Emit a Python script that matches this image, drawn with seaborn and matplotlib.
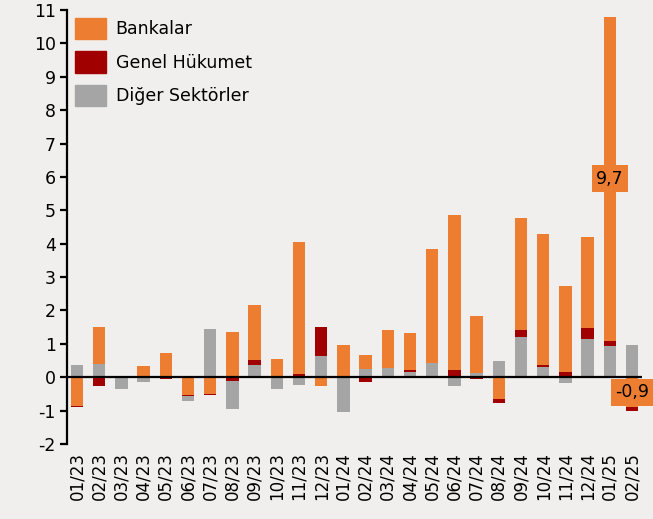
import seaborn as sns
import matplotlib.pyplot as plt
import matplotlib.patches as mpatches
import numpy as np
import pandas as pd

months = ['01/23', '02/23', '03/23', '04/23', '05/23', '06/23', '07/23', '08/23',
          '09/23', '10/23', '11/23', '12/23', '01/24', '02/24', '03/24', '04/24',
          '05/24', '06/24', '07/24', '08/24', '09/24', '10/24', '11/24', '12/24',
          '01/25', '02/25']
bankalar = [-0.85, 1.12, 0.04, 0.35, 0.74, -0.52, -0.50, 1.34, 1.62, 0.51, 3.95, -0.25,
            0.96, 0.42, 1.12, 1.08, 3.43, 4.64, 1.72, -0.64, 3.36, 3.90, 2.58, 2.73,
            9.70, -0.90]
genel_hukumet = [-0.05, -0.25, 0.0, 0.0, -0.06, -0.03, -0.03, -0.12, 0.15, 0.04, 0.10, 0.84,
                 0.0, -0.15, 0.0, 0.06, 0.0, 0.23, -0.06, -0.14, 0.18, 0.06, 0.15, 0.30,
                 0.15, -0.12]
diger = [0.38, 0.39, -0.35, -0.15, 0.0, -0.17, 1.43, -0.82, 0.38, -0.35, -0.22, 0.65,
         -1.05, 0.25, 0.28, 0.17, 0.42, -0.27, 0.12, 0.50, 1.22, 0.32, -0.16, 1.16,
         0.95, 0.97]
labels_idx = [24, 25]
labels_txt = ['9,7', '-0,9']

c_bank = '#ED7D31'
c_gov = '#A00000'
c_oth = '#A5A5A5'
bg = '#F1EFEE'

b = np.array(bankalar)
g = np.array(genel_hukumet)
o = np.array(diger)
pos = lambda a: np.clip(a, 0, None)
neg = lambda a: np.clip(a, None, 0)

# positive stack: gray, red, orange (bottom -> top); negative stack: orange, red, gray
layers = [
    (pos(o) + pos(g) + pos(b), c_bank),
    (pos(o) + pos(g), c_gov),
    (pos(o), c_oth),
    (neg(b) + neg(g) + neg(o), c_oth),
    (neg(b) + neg(g), c_gov),
    (neg(b), c_bank),
]

plt.rcParams['font.family'] = ['DejaVu Sans']
plt.rcParams['axes.unicode_minus'] = False
fig = plt.figure(figsize=(6.53, 5.19), dpi=100, facecolor=bg)
ax = fig.add_axes([67 / 653, 1 - 444 / 519, (642 - 67) / 653, (444 - 10) / 519])
ax.set_facecolor(bg)

for vals, col in layers:
    df = pd.DataFrame({'month': months, 'v': vals})
    sns.barplot(data=df, x='month', y='v', color=col, width=0.56, saturation=1,
                linewidth=0, ax=ax, order=months)

ax.axhline(0, color='black', lw=1.6, zorder=5)

for i, t in zip(labels_idx, labels_txt):
    if b[i] > 0:
        yc = pos(o[i]) + pos(g[i]) + b[i] / 2
    else:
        yc = b[i] / 2
    ax.text(i, yc, t, ha='center', va='center', fontsize=12.5, color='black', zorder=6,
            clip_on=False,
            bbox=dict(boxstyle='square,pad=0.25', fc=c_bank, ec='none'))

ax.set_xlim(-0.45, 25.45)
ax.set_ylim(-2, 11)
ax.set_yticks(range(-2, 12))
ax.set_xlabel('')
ax.set_ylabel('')
for s in ['top', 'right', 'bottom']:
    ax.spines[s].set_visible(False)
ax.spines['left'].set_color('black')
ax.spines['left'].set_linewidth(1.6)
ax.tick_params(axis='y', length=5, width=1.6, labelsize=12.5, pad=3, direction='out')
ax.tick_params(axis='x', length=0, labelsize=12, pad=6, labelrotation=90)

handles = [mpatches.Patch(color=c_bank, label='Bankalar'),
           mpatches.Patch(color=c_gov, label='Genel Hükumet'),
           mpatches.Patch(color=c_oth, label='Diğer Sektörler')]
ax.legend(handles=handles, loc='upper left', bbox_to_anchor=(0.0, 1.0), frameon=False,
          fontsize=12.5, handlelength=1.8, handleheight=1.5, labelspacing=0.72,
          handletextpad=0.55, borderaxespad=0.15, borderpad=0.3)

plt.savefig('out.png', dpi=100, facecolor=bg)
